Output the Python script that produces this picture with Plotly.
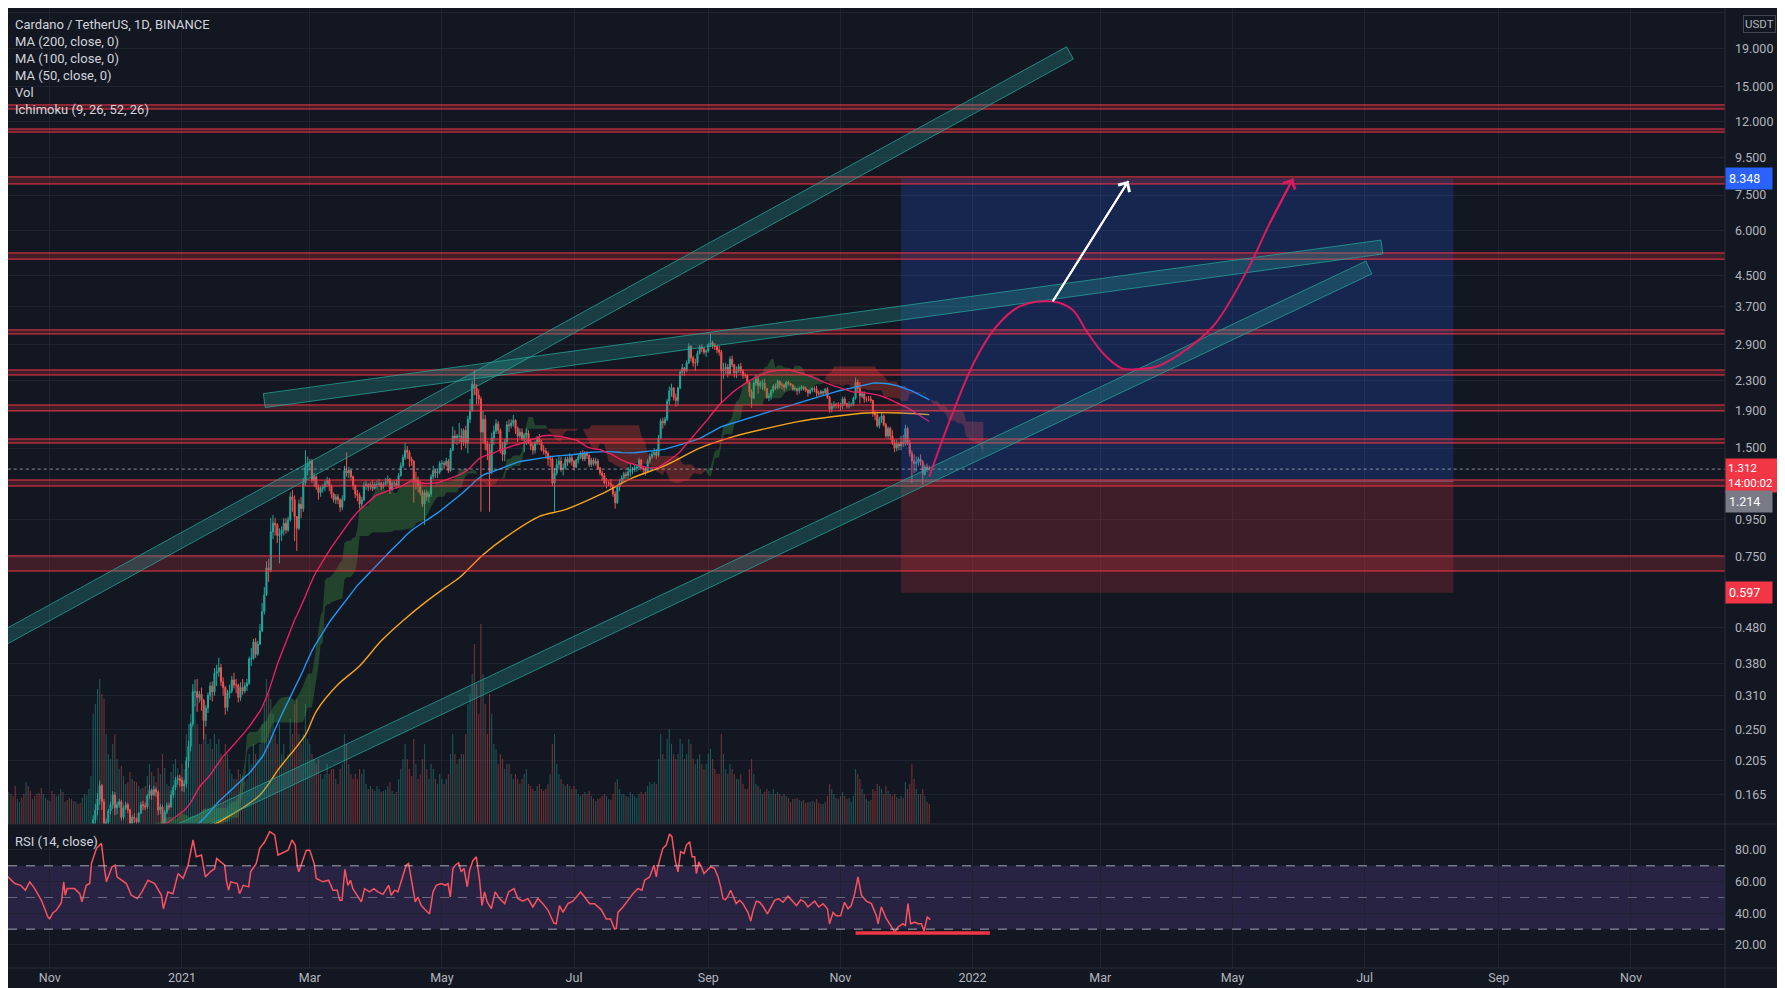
import math
import numpy as np
import pandas as pd
import plotly.graph_objects as go

# ---------------- DATA (read / estimated from the picture) ----------------
months = ['2020-10', '2020-11', '2020-12', '2021-01', '2021-02', '2021-03', '2021-04',
          '2021-05', '2021-06', '2021-07', '2021-08', '2021-09', '2021-10', '2021-11', '2021-12']
first_open = 0.102

close_by_month = [
    [0.100,0.097,0.100,0.102,0.103,0.099,0.101,0.102,0.105,0.108,0.107,0.108,0.109,0.106,0.105,0.100,0.101,0.104,0.102,0.101,0.110,0.109,0.106,0.108,0.105,0.104,0.101,0.099,0.102,0.104,0.103],
    [0.103,0.094,0.092,0.095,0.099,0.107,0.100,0.104,0.103,0.101,0.105,0.104,0.104,0.102,0.100,0.104,0.107,0.108,0.111,0.117,0.141,0.150,0.161,0.175,0.158,0.131,0.139,0.149,0.155,0.165],
    [0.152,0.155,0.158,0.143,0.152,0.155,0.150,0.138,0.143,0.142,0.139,0.147,0.155,0.154,0.153,0.164,0.170,0.165,0.171,0.168,0.150,0.153,0.133,0.148,0.154,0.153,0.165,0.173,0.182,0.183,0.181],
    [0.175,0.177,0.205,0.225,0.259,0.318,0.318,0.307,0.313,0.301,0.265,0.287,0.311,0.330,0.318,0.358,0.362,0.371,0.339,0.327,0.288,0.316,0.320,0.343,0.332,0.332,0.307,0.327,0.320,0.330,0.336],
    [0.392,0.393,0.437,0.404,0.431,0.468,0.530,0.590,0.700,0.690,0.880,0.930,0.920,0.860,0.870,0.890,0.930,0.890,0.950,1.100,1.080,0.970,0.900,1.050,1.020,1.200,1.330,1.360],
    [1.380,1.220,1.250,1.170,1.130,1.160,1.170,1.200,1.220,1.180,1.120,1.080,1.100,1.080,1.030,1.080,1.300,1.280,1.300,1.250,1.180,1.120,1.110,1.050,1.080,1.180,1.190,1.170,1.190,1.160,1.190],
    [1.190,1.200,1.170,1.190,1.210,1.230,1.150,1.200,1.200,1.180,1.260,1.340,1.410,1.480,1.460,1.400,1.380,1.220,1.220,1.180,1.130,1.050,1.130,1.100,1.120,1.250,1.300,1.280,1.290,1.360],
    [1.360,1.350,1.380,1.300,1.480,1.620,1.600,1.620,1.620,1.560,1.680,1.550,1.800,1.900,2.250,2.200,2.100,2.050,1.660,1.800,1.540,1.480,1.290,1.600,1.670,1.750,1.680,1.480,1.440,1.560,1.740],
    [1.730,1.760,1.790,1.700,1.620,1.660,1.590,1.630,1.650,1.550,1.520,1.480,1.550,1.590,1.560,1.480,1.470,1.450,1.400,1.400,1.200,1.280,1.350,1.380,1.310,1.320,1.400,1.370,1.410,1.380],
    [1.330,1.390,1.420,1.450,1.400,1.450,1.430,1.350,1.390,1.360,1.380,1.320,1.280,1.260,1.200,1.200,1.200,1.180,1.120,1.060,1.170,1.200,1.240,1.270,1.260,1.290,1.310,1.310,1.320,1.330,1.390],
    [1.320,1.310,1.290,1.380,1.420,1.440,1.460,1.430,1.600,1.780,1.760,1.800,2.020,2.160,2.200,2.070,2.030,2.200,2.430,2.500,2.450,2.580,2.860,2.660,2.580,2.580,2.740,2.850,2.820,2.760,2.780],
    [2.900,2.930,2.880,2.860,2.800,2.760,2.450,2.480,2.510,2.410,2.640,2.550,2.420,2.450,2.520,2.450,2.380,2.380,2.280,2.140,2.060,2.270,2.330,2.230,2.270,2.270,2.190,2.070,2.090,2.160],
    [2.220,2.200,2.290,2.240,2.240,2.210,2.280,2.260,2.240,2.180,2.190,2.160,2.190,2.210,2.190,2.170,2.130,2.170,2.190,2.180,2.130,2.120,2.150,2.130,2.180,2.070,1.920,1.960,1.980,1.970,1.970],
    [1.960,2.050,1.990,1.960,1.980,1.980,2.060,2.280,2.190,2.090,2.120,2.050,2.050,2.050,2.030,1.870,1.850,1.730,1.800,1.840,1.740,1.620,1.700,1.620,1.550,1.500,1.540,1.520,1.560,1.540],
    [1.700,1.550,1.450,1.380,1.360,1.370,1.400,1.370,1.270,1.330,1.320,1.312],
]
high_by_month = [
    [0.103,0.101,0.101,0.104,0.105,0.104,0.102,0.104,0.107,0.110,0.110,0.110,0.111,0.110,0.107,0.106,0.102,0.105,0.105,0.103,0.112,0.113,0.110,0.109,0.109,0.106,0.105,0.102,0.103,0.105,0.106],
    [0.105,0.104,0.095,0.096,0.100,0.111,0.108,0.105,0.107,0.104,0.106,0.107,0.106,0.105,0.103,0.105,0.109,0.110,0.114,0.120,0.145,0.156,0.167,0.181,0.177,0.161,0.142,0.151,0.158,0.169],
    [0.168,0.158,0.161,0.160,0.154,0.158,0.157,0.151,0.145,0.147,0.143,0.148,0.158,0.159,0.157,0.166,0.176,0.172,0.175,0.173,0.170,0.156,0.155,0.150,0.157,0.157,0.170,0.176,0.185,0.187,0.188],
    [0.185,0.182,0.210,0.233,0.262,0.334,0.344,0.345,0.320,0.327,0.304,0.292,0.317,0.338,0.340,0.370,0.378,0.395,0.380,0.349,0.330,0.322,0.333,0.352,0.359,0.345,0.335,0.338,0.345,0.338,0.345],
    [0.398,0.420,0.446,0.448,0.440,0.490,0.560,0.620,0.730,0.740,0.960,0.980,0.960,0.930,0.900,0.910,0.960,0.960,0.970,1.130,1.150,1.110,0.960,1.080,1.100,1.240,1.480,1.420],
    [1.400,1.400,1.280,1.260,1.190,1.180,1.190,1.220,1.250,1.240,1.190,1.130,1.120,1.120,1.090,1.110,1.340,1.460,1.330,1.310,1.260,1.190,1.150,1.130,1.100,1.210,1.220,1.200,1.210,1.220,1.210],
    [1.220,1.230,1.210,1.210,1.240,1.260,1.240,1.220,1.220,1.230,1.280,1.370,1.440,1.550,1.520,1.480,1.420,1.390,1.290,1.250,1.220,1.150,1.150,1.150,1.140,1.270,1.340,1.310,1.320,1.380],
    [1.390,1.380,1.410,1.400,1.500,1.720,1.680,1.640,1.760,1.700,1.700,1.730,1.840,2.050,2.300,2.470,2.250,2.180,2.080,1.900,1.850,1.570,1.540,1.650,1.730,1.800,1.780,1.700,1.560,1.590,1.780],
    [1.800,1.800,1.850,1.800,1.720,1.700,1.700,1.650,1.700,1.680,1.580,1.560,1.570,1.620,1.640,1.580,1.530,1.500,1.470,1.430,1.420,1.320,1.400,1.430,1.420,1.360,1.420,1.420,1.450,1.440],
    [1.390,1.400,1.440,1.470,1.480,1.470,1.470,1.440,1.410,1.410,1.410,1.400,1.330,1.300,1.280,1.240,1.220,1.230,1.190,1.140,1.190,1.230,1.260,1.290,1.290,1.330,1.360,1.330,1.350,1.350,1.410],
    [1.400,1.340,1.330,1.400,1.450,1.470,1.500,1.490,1.630,1.810,1.820,1.830,2.050,2.220,2.260,2.210,2.120,2.210,2.460,2.560,2.510,2.620,2.920,2.890,2.700,2.650,2.790,2.890,2.900,2.850,2.810],
    [2.920,3.100,2.970,2.920,2.880,2.870,2.800,2.580,2.580,2.560,2.690,2.700,2.560,2.520,2.560,2.580,2.480,2.420,2.400,2.290,2.180,2.310,2.400,2.360,2.300,2.320,2.330,2.200,2.130,2.180],
    [2.250,2.260,2.320,2.310,2.280,2.260,2.300,2.300,2.270,2.250,2.230,2.200,2.220,2.240,2.230,2.220,2.180,2.190,2.210,2.220,2.230,2.160,2.170,2.160,2.200,2.210,2.090,2.000,2.020,2.000,2.010],
    [2.000,2.080,2.080,2.000,2.020,2.000,2.080,2.350,2.320,2.280,2.150,2.150,2.080,2.090,2.090,2.040,1.910,1.880,1.830,1.880,1.860,1.760,1.720,1.720,1.680,1.580,1.580,1.560,1.620,1.630],
    [1.740,1.720,1.580,1.480,1.440,1.420,1.420,1.440,1.390,1.350,1.360,1.340],
]
low_by_month = [
    [0.098,0.094,0.096,0.099,0.100,0.098,0.098,0.100,0.101,0.104,0.105,0.105,0.106,0.105,0.103,0.099,0.099,0.100,0.101,0.099,0.100,0.107,0.104,0.105,0.104,0.101,0.099,0.097,0.098,0.101,0.102],
    [0.100,0.092,0.088,0.091,0.094,0.098,0.097,0.098,0.101,0.099,0.100,0.102,0.102,0.101,0.098,0.099,0.103,0.104,0.106,0.110,0.116,0.135,0.145,0.155,0.150,0.115,0.128,0.136,0.146,0.151],
    [0.145,0.146,0.152,0.140,0.141,0.150,0.147,0.135,0.136,0.138,0.134,0.138,0.146,0.150,0.150,0.151,0.161,0.160,0.164,0.163,0.145,0.146,0.128,0.131,0.146,0.150,0.152,0.162,0.170,0.176,0.174],
    [0.169,0.168,0.173,0.196,0.218,0.255,0.290,0.280,0.297,0.282,0.235,0.255,0.278,0.302,0.299,0.310,0.330,0.350,0.330,0.310,0.275,0.281,0.305,0.315,0.325,0.315,0.297,0.300,0.312,0.315,0.320],
    [0.332,0.375,0.390,0.395,0.400,0.428,0.465,0.520,0.585,0.640,0.680,0.840,0.860,0.820,0.720,0.830,0.860,0.870,0.880,0.940,1.000,0.830,0.780,0.890,0.960,1.000,1.180,1.260],
    [1.300,1.200,1.170,1.150,1.080,1.100,1.130,1.140,1.170,1.140,1.090,1.060,1.050,1.050,1.000,1.010,1.070,1.250,1.240,1.220,1.150,1.090,1.070,1.020,1.030,1.070,1.150,1.140,1.150,1.140,1.150],
    [1.160,1.170,1.150,1.160,1.180,1.190,1.120,1.140,1.170,1.160,1.170,1.250,1.320,1.390,1.400,1.330,1.340,1.060,1.150,1.130,1.110,1.030,0.920,1.070,1.060,1.100,1.230,1.240,1.240,1.270],
    [1.300,1.310,1.330,1.280,1.290,1.470,1.540,1.530,1.550,1.480,1.520,1.500,1.450,1.760,1.890,2.100,1.980,1.980,1.000,1.550,1.480,1.390,1.000,1.270,1.530,1.640,1.640,1.450,1.380,1.380,1.530],
    [1.660,1.700,1.720,1.640,1.560,1.600,1.570,1.460,1.530,1.540,1.480,1.440,1.450,1.530,1.530,1.470,1.440,1.400,1.340,1.330,1.180,1.000,1.260,1.310,1.290,1.260,1.310,1.340,1.360,1.340],
    [1.300,1.320,1.360,1.400,1.380,1.380,1.400,1.330,1.330,1.340,1.340,1.310,1.260,1.220,1.190,1.160,1.180,1.160,1.100,1.020,1.050,1.140,1.190,1.210,1.230,1.230,1.250,1.270,1.290,1.290,1.320],
    [1.310,1.270,1.260,1.280,1.360,1.400,1.420,1.400,1.420,1.580,1.700,1.730,1.780,1.970,2.080,2.030,1.950,1.960,2.180,2.380,2.370,2.430,2.560,2.600,2.520,2.450,2.530,2.720,2.760,2.720,2.680],
    [2.750,2.850,2.820,2.800,2.740,2.700,2.000,2.330,2.400,2.350,2.390,2.510,2.350,2.340,2.420,2.410,2.330,2.340,2.260,2.080,1.940,2.050,2.230,2.120,2.190,2.170,2.160,2.050,2.020,2.040],
    [2.130,2.170,2.180,2.190,2.180,2.150,2.180,2.230,2.220,2.160,2.150,2.100,2.120,2.160,2.160,2.140,2.080,2.110,2.140,2.140,2.080,2.090,2.100,2.100,2.120,2.050,1.880,1.880,1.930,1.930,1.930],
    [1.900,1.920,1.970,1.930,1.930,1.950,1.960,2.040,2.130,1.990,2.060,2.000,2.010,2.020,2.000,1.830,1.790,1.710,1.700,1.760,1.720,1.600,1.590,1.580,1.530,1.460,1.470,1.480,1.480,1.510],
    [1.520,1.530,1.420,1.200,1.280,1.290,1.340,1.340,1.190,1.260,1.290,1.300],
]
volume_by_month = [
    [300,350,250,240,260,300,250,260,320,340,300,280,320,300,280,380,250,220,260,300,420,380,330,250,280,300,310,360,300,260,240],
    [230,330,300,280,290,350,320,220,240,260,250,230,220,200,210,260,300,290,350,480,1100,1200,1350,1450,1300,1250,900,700,650,800],
    [900,650,550,580,480,400,420,520,450,430,420,380,350,360,380,480,600,520,480,420,560,500,700,560,400,380,520,600,650,560,480],
    [600,550,900,1000,1100,1350,1200,1000,800,800,1100,900,800,850,750,900,800,850,700,650,800,700,550,500,450,450,550,500,480,420,450],
    [700,600,800,700,650,800,1000,1200,1450,1300,1250,1100,900,800,1000,700,800,650,700,1050,900,1200,1250,900,800,900,1200,850],
    [800,700,650,600,650,500,450,500,600,500,550,550,450,400,550,600,900,800,600,500,450,500,450,550,500,550,400,350,380,350,330],
    [380,350,320,330,340,380,420,330,300,320,450,550,650,800,650,550,480,850,600,450,500,650,800,550,450,600,550,450,400,500],
    [450,400,450,500,700,900,700,600,650,700,700,900,1200,1300,1500,1800,1400,1100,2000,1500,1200,900,1300,1100,800,750,600,700,650,550,600],
    [600,500,450,500,450,400,450,500,550,400,380,350,330,380,400,350,330,350,400,500,800,900,600,500,450,400,380,400,380,350],
    [380,350,300,280,300,320,300,330,280,250,230,250,260,280,300,280,250,240,300,420,450,350,300,300,280,270,320,300,280,260,300],
    [320,300,320,380,420,400,420,400,650,900,700,650,850,950,800,700,650,700,850,800,650,700,850,800,650,600,650,700,600,550,600],
    [700,750,650,550,500,500,900,700,550,500,600,550,500,450,450,500,400,350,350,550,650,500,400,380,350,300,320,350,330,300],
    [350,300,320,300,280,300,280,260,220,250,250,260,240,230,240,210,220,220,230,220,250,210,200,200,220,280,400,350,300,260,250],
    [280,320,280,250,260,220,280,550,500,450,350,300,250,230,240,350,330,400,380,350,300,380,330,300,280,300,270,250,280,260],
    [420,350,400,600,450,350,300,300,350,280,220,200],
]

# MA(200) (date, value)
ma200_dates = ['2021-01-05','2021-01-19','2021-02-06','2021-02-15','2021-02-27','2021-03-04','2021-03-14',
               '2021-03-24','2021-04-03','2021-04-13','2021-04-23','2021-05-03','2021-05-09','2021-05-20',
               '2021-05-31','2021-06-15','2021-06-27','2021-07-13','2021-07-28','2021-08-13','2021-08-28',
               '2021-09-13','2021-09-28','2021-10-13','2021-10-28','2021-11-13','2021-11-29','2021-12-12']
ma200_values = [0.128,0.140,0.165,0.196,0.242,0.281,0.333,0.375,0.440,0.500,0.560,0.620,0.657,0.761,
                0.855,0.971,1.014,1.115,1.240,1.350,1.500,1.616,1.700,1.778,1.830,1.875,1.875,1.855]

# RSI(14): (days after 2021-01-01, value)
rsi_points = [
    (-82.0,62.5),(-80.3,63.0),(-77.2,58.8),(-74.5,57.7),(-72.3,54.6),(-70.3,59.9),(-68.0,55.6),(-64.9,48.2),
    (-61.9,37.6),(-61.1,36.6),(-59.6,40.2),(-58.0,41.9),(-55.7,46.7),(-54.6,59.9),(-53.9,51.4),(-53.0,55.6),
    (-49.6,55.6),(-47.2,52.4),(-46.2,47.2),(-44.2,57.7),(-42.6,58.8),(-41.8,71.5),(-39.5,81.0),(-37.2,84.2),
    (-35.7,67.2),(-34.9,59.9),(-32.3,69.4),(-30.8,70.4),(-30.0,63.0),(-28.0,60.9),(-25.7,58.8),(-23.4,51.4),
    (-20.6,49.3),(-18.5,53.5),(-15.7,60.9),(-12.6,58.8),(-9.5,51.4),(-8.6,42.9),(-6.5,53.5),(-4.2,52.4),
    (-1.8,65.1),(0.5,62.0),(2.8,70.4),(5.1,86.3),(6.6,75.7),(9.0,76.8),(10.8,63.0),(13.1,66.2),(15.1,68.3),
    (16.0,74.7),(19.7,70.4),(20.6,59.9),(21.5,54.6),(22.5,59.9),(25.5,58.8),(26.6,52.4),(28.3,57.7),
    (30.8,56.7),(31.7,66.2),(34.3,71.5),(35.9,81.0),(38.2,85.2),(40.5,91.6),(42.8,89.5),(44.3,76.8),
    (49.0,79.9),(50.8,86.3),(52.3,83.1),(53.2,70.4),(53.9,66.2),(57.4,79.9),(59.0,79.9),(61.0,71.5),
    (62.0,62.0),(65.1,59.9),(67.7,60.9),(69.7,54.6),(71.7,54.6),(72.8,48.2),(73.9,48.2),(75.2,67.8),
    (76.6,57.7),(77.8,60.9),(78.9,55.6),(81.2,50.3),(82.8,47.2),(84.3,55.6),(86.6,53.5),(88.6,55.6),
    (90.5,53.5),(92.8,52.0),(95.4,57.7),(96.6,51.4),(98.2,54.6),(99.7,53.5),(101.5,62.0),(103.5,70.4),
    (104.6,71.5),(105.9,62.0),(107.7,47.2),(108.9,50.3),(110.5,44.9),(112.3,42.2),(114.3,39.6),(115.9,53.5),
    (117.4,57.7),(119.7,58.8),(121.6,57.7),(122.8,58.8),(123.9,50.3),(125.1,68.3),(126.2,70.4),(127.7,71.9),
    (128.9,66.2),(130.2,68.3),(131.7,56.7),(132.8,67.2),(134.3,73.2),(135.9,75.7),(137.4,60.9),(138.5,44.9),
    (139.7,53.5),(140.9,47.2),(142.8,42.9),(144.6,53.5),(146.6,49.3),(149.0,46.1),(150.8,53.5),(153.3,55.6),
    (155.1,49.3),(157.4,47.7),(159.7,49.3),(162.0,44.0),(164.3,49.3),(166.6,46.1),(169.0,41.9),(171.7,33.8),
    (172.8,33.4),(174.3,44.9),(175.9,40.6),(178.2,46.1),(180.5,47.7),(182.8,51.4),(184.0,53.5),(185.9,50.3),
    (188.2,46.1),(190.5,46.1),(193.6,42.2),(195.9,36.4),(197.9,36.4),(199.7,30.1),(200.5,30.5),(201.3,40.6),
    (203.6,44.0),(205.9,48.2),(208.2,52.4),(210.5,55.6),(212.4,54.6),(213.6,60.9),(215.9,63.0),(217.9,70.4),
    (219.0,63.0),(219.7,69.4),(221.0,76.8),(222.0,81.0),(223.6,83.1),(225.1,90.1),(226.2,88.4),(227.7,73.6),
    (229.0,66.2),(230.2,78.9),(231.8,77.8),(232.9,83.1),(234.4,85.2),(235.5,75.7),(236.7,75.7),(237.5,65.1),
    (238.6,72.5),(239.8,69.4),(241.0,65.1),(242.6,67.2),(244.1,69.4),(245.9,68.3),(247.5,63.0),(248.7,56.7),
    (249.8,49.3),(250.9,48.6),(252.1,50.8),(253.3,54.6),(254.4,50.8),(255.9,46.1),(257.5,48.2),(259.0,46.1),
    (261.3,40.6),(262.6,35.1),(263.6,41.4),(265.2,47.7),(266.7,47.0),(268.3,44.3),(270.3,39.6),(272.1,44.0),
    (273.6,48.2),(275.5,49.3),(277.5,47.0),(279.8,50.8),(281.7,48.2),(283.7,44.9),(285.7,48.6),(287.5,47.0),
    (289.0,44.0),(292.1,47.7),(294.0,44.0),(296.0,46.1),(298.0,42.9),(299.0,33.4),(300.6,40.6),(302.1,38.5),
    (304.1,38.5),(305.9,47.0),(307.5,42.9),(309.0,44.9),(310.6,52.4),(312.1,63.0),(313.7,51.4),(316.0,47.7),
    (318.3,46.1),(320.6,38.5),(321.4,33.4),(322.9,44.0),(325.2,36.6),(326.7,33.4),(329.1,28.1),(330.6,31.4),
    (332.9,33.4),(334.0,32.3),(335.2,46.1),(336.4,33.4),(338.3,34.4),(339.8,33.4),(341.4,33.4),(342.6,28.8),
    (344.1,37.6),(345.5,36.0),
]

# Horizontal support/resistance zones (upper, lower)
zone_upper = [13.31, 11.42, 8.42, 5.19, 3.18, 2.465, 1.973, 1.589, 1.224, 0.755]
zone_lower = [12.97, 11.20, 8.05, 4.99, 3.10, 2.388, 1.900, 1.549, 1.178, 0.686]

# Trend channels (start date, start price, end date, end price)
band_start_dates = ['2020-10-04', '2020-11-27', '2021-02-08']
band_start_prices = [0.4259, 0.1052, 2.029]
band_end_dates = ['2022-02-15', '2022-07-03', '2022-07-09']
band_end_prices = [18.53, 4.732, 5.39]

# Long position tool
pos_dates = ['2021-11-29', '2022-08-11']
pos_target, pos_entry, pos_stop = 8.348, 1.214, 0.597
last_price = 1.312

# Projected path (pink) and white arrow
path_dates = ['2021-12-12','2021-12-22','2022-01-02','2022-01-12','2022-01-23','2022-02-07','2022-02-16',
              '2022-02-23','2022-03-03','2022-03-11','2022-03-19','2022-03-27','2022-04-06','2022-04-22',
              '2022-05-08','2022-05-18','2022-05-29']
path_prices = [1.25,1.82,2.61,3.25,3.70,3.81,3.62,3.13,2.71,2.49,2.48,2.52,2.71,3.25,4.67,6.23,8.33]
arrow_dates = ['2022-02-07', '2022-03-14']
arrow_prices = [3.81, 8.2]

# RSI drawn support line
rsi_line_dates = ['2021-11-08', '2022-01-09']
rsi_line_value = 27.5

price_ticks = [24, 19, 15, 12, 9.5, 7.5, 6, 4.5, 3.7, 2.9, 2.3, 1.9, 1.5, 0.95, 0.75, 0.48, 0.38, 0.31, 0.25, 0.205, 0.165]
rsi_ticks = [20, 40, 60, 80]
x_tick_dates = ['2020-11-01','2021-01-01','2021-03-01','2021-05-01','2021-07-01','2021-09-01','2021-11-01',
                '2022-01-01','2022-03-01','2022-05-01','2022-07-01','2022-09-01','2022-11-01']
x_tick_text = ['Nov','2021','Mar','May','Jul','Sep','Nov','2022','Mar','May','Jul','Sep','Nov']

legend_lines = ['Cardano / TetherUS, 1D, BINANCE', 'MA (200, close, 0)', 'MA (100, close, 0)',
                'MA (50, close, 0)', 'Vol', 'Ichimoku (9, 26, 52, 26)']

# ---------------- build series ----------------
for m, c in zip(months[:-1], close_by_month[:-1]):
    if len(c) != pd.Timestamp(m + '-01').days_in_month:
        raise ValueError(f'close {m}: {len(c)}')
for nm, arr in [('high', high_by_month), ('low', low_by_month), ('vol', volume_by_month)]:
    for m, a, c in zip(months, arr, close_by_month):
        if len(a) != len(c):
            raise ValueError(f'{nm} {m}: {len(a)} vs {len(c)}')

dates = []
for m, c in zip(months, close_by_month):
    dates += list(pd.date_range(pd.Timestamp(m + '-01'), periods=len(c), freq='D'))
dates = pd.DatetimeIndex(dates)
close = [v for row in close_by_month for v in row]
high = [v for row in high_by_month for v in row]
low = [v for row in low_by_month for v in row]
volume = [v for row in volume_by_month for v in row]
opens = [first_open] + close[:-1]

cs = pd.Series(close)
ma50 = cs.rolling(50).mean()
ma100 = cs.rolling(100).mean()

Hs, Ls = pd.Series(high), pd.Series(low)
tenkan = (Hs.rolling(9).max() + Ls.rolling(9).min()) / 2
kijun = (Hs.rolling(26).max() + Ls.rolling(26).min()) / 2
spanA = ((tenkan + kijun) / 2).to_numpy()
spanB = ((Hs.rolling(52).max() + Ls.rolling(52).min()) / 2).to_numpy()
cloud_x = dates + pd.Timedelta(days=25)

# ---------------- styling constants ----------------
BG = '#131722'
GRID = '#1f2330'
TXT = '#b2b5be'
FONT = 'Roboto'
UP, DN = '#26a69a', '#ef5350'
RED = '#f23645'
X_LEFT, X_RIGHT = pd.Timestamp('2020-09-01'), pd.Timestamp('2023-02-01')
XR = ['2020-10-12 16:00', '2022-12-14 10:00']
PRICE_RANGE = [-0.8627, 1.392]
RSI_RANGE = [5.47, 96.4]
VOL_MAX = 8160
PLOT_W, PRICE_H = 1717, 816
BAND_W = 14

fig = go.Figure()

# volume (base y axis, drawn first)
vol_colors = ['rgba(38,166,154,0.45)' if c >= o else 'rgba(239,83,80,0.45)' for o, c in zip(opens, close)]
fig.add_trace(go.Bar(x=dates, y=volume, marker=dict(color=vol_colors, line=dict(width=0)),
                     width=0.5 * 86400000, yaxis='y', hoverinfo='skip'))

# Ichimoku cloud
valid_idx = np.where(~np.isnan(spanA) & ~np.isnan(spanB))[0]
segments = []
cur = None
for k, i in enumerate(valid_idx):
    a, b = spanA[i], spanB[i]
    s = a >= b
    if cur is None:
        cur = {'s': s, 'x': [cloud_x[i]], 'a': [a], 'b': [b]}
    elif s == cur['s']:
        cur['x'].append(cloud_x[i]); cur['a'].append(a); cur['b'].append(b)
    else:
        j = valid_idx[k - 1]
        d0, d1 = spanA[j] - spanB[j], a - b
        t = d0 / (d0 - d1)
        xc = cloud_x[j] + (cloud_x[i] - cloud_x[j]) * t
        yc = spanA[j] + (a - spanA[j]) * t
        cur['x'].append(xc); cur['a'].append(yc); cur['b'].append(yc)
        segments.append(cur)
        cur = {'s': s, 'x': [xc, cloud_x[i]], 'a': [yc, a], 'b': [yc, b]}
if cur is not None:
    segments.append(cur)
for sg in segments:
    fig.add_trace(go.Scatter(x=list(sg['x']) + list(sg['x'])[::-1], y=sg['a'] + sg['b'][::-1],
                             mode='lines', line=dict(width=0), fill='toself',
                             fillcolor='rgba(67,160,71,0.33)' if sg['s'] else 'rgba(244,67,54,0.30)',
                             yaxis='y2', hoverinfo='skip'))

# candles
fig.add_trace(go.Candlestick(x=dates, open=opens, high=high, low=low, close=close, yaxis='y2',
                             increasing=dict(line=dict(color=UP, width=1), fillcolor=UP),
                             decreasing=dict(line=dict(color=DN, width=1), fillcolor=DN),
                             whiskerwidth=0, hoverinfo='skip'))

# moving averages
fig.add_trace(go.Scatter(x=pd.to_datetime(ma200_dates), y=ma200_values, mode='lines',
                         line=dict(color='#f7a51c', width=1.4, shape='spline', smoothing=0.8),
                         yaxis='y2', hoverinfo='skip'))
fig.add_trace(go.Scatter(x=dates, y=ma100, mode='lines', line=dict(color='#2196f3', width=1.4),
                         yaxis='y2', hoverinfo='skip'))
fig.add_trace(go.Scatter(x=dates, y=ma50, mode='lines', line=dict(color='#e91e63', width=1.4),
                         yaxis='y2', hoverinfo='skip'))

# position tool boxes
fig.add_trace(go.Scatter(x=[pos_dates[0], pos_dates[1], pos_dates[1], pos_dates[0]],
                         y=[pos_entry, pos_entry, pos_target, pos_target], mode='lines', line=dict(width=0),
                         fill='toself', fillcolor='rgba(41,98,255,0.20)', yaxis='y2', hoverinfo='skip'))
fig.add_trace(go.Scatter(x=[pos_dates[0], pos_dates[1], pos_dates[1], pos_dates[0]],
                         y=[pos_stop, pos_stop, pos_entry, pos_entry], mode='lines', line=dict(width=0),
                         fill='toself', fillcolor='rgba(242,54,69,0.20)', yaxis='y2', hoverinfo='skip'))
fig.add_trace(go.Scatter(x=pos_dates, y=[pos_entry, pos_entry], mode='lines',
                         line=dict(color='rgba(120,123,134,0.7)', width=1), yaxis='y2', hoverinfo='skip'))

# horizontal zones
for hi, lo in zip(zone_upper, zone_lower):
    fig.add_trace(go.Scatter(x=[X_LEFT, X_RIGHT, X_RIGHT, X_LEFT, X_LEFT], y=[lo, lo, hi, hi, lo],
                             mode='lines', line=dict(color=RED, width=1), fill='toself',
                             fillcolor='rgba(242,54,69,0.20)', yaxis='y2', hoverinfo='skip'))

# current price dotted line
fig.add_trace(go.Scatter(x=[X_LEFT, X_RIGHT], y=[last_price, last_price], mode='lines',
                         line=dict(color='rgba(200,200,210,0.65)', width=1, dash='dot'), yaxis='y2', hoverinfo='skip'))

# trend channels drawn as rotated rectangles of constant screen width
x0_ts = pd.Timestamp(XR[0])
x1_ts = pd.Timestamp(XR[1])
px_per_day = PLOT_W / ((x1_ts - x0_ts) / pd.Timedelta(days=1))
px_per_dec = PRICE_H / (PRICE_RANGE[1] - PRICE_RANGE[0])
def to_px(d, p):
    return ((pd.Timestamp(d) - x0_ts) / pd.Timedelta(days=1) * px_per_day, math.log10(p) * px_per_dec)
def from_px(X, Y):
    return (x0_ts + pd.Timedelta(days=X / px_per_day), 10 ** (Y / px_per_dec))
for d0, p0, d1, p1 in zip(band_start_dates, band_start_prices, band_end_dates, band_end_prices):
    X0, Y0 = to_px(d0, p0)
    X1, Y1 = to_px(d1, p1)
    L = math.hypot(X1 - X0, Y1 - Y0)
    nx, ny = -(Y1 - Y0) / L * BAND_W / 2, (X1 - X0) / L * BAND_W / 2
    corners = [from_px(X0 + nx, Y0 + ny), from_px(X1 + nx, Y1 + ny), from_px(X1 - nx, Y1 - ny),
               from_px(X0 - nx, Y0 - ny), from_px(X0 + nx, Y0 + ny)]
    fig.add_trace(go.Scatter(x=[c[0] for c in corners], y=[c[1] for c in corners], mode='lines',
                             line=dict(color='rgba(38,166,154,0.75)', width=1), fill='toself',
                             fillcolor='rgba(38,166,154,0.28)', yaxis='y2', hoverinfo='skip'))

# projected path
fig.add_trace(go.Scatter(x=path_dates, y=path_prices, mode='lines',
                         line=dict(color='#d81b60', width=2, shape='spline', smoothing=1.0),
                         yaxis='y2', hoverinfo='skip'))
# white arrow shaft
fig.add_trace(go.Scatter(x=arrow_dates, y=arrow_prices, mode='lines',
                         line=dict(color='#ffffff', width=2), yaxis='y2', hoverinfo='skip'))

# RSI
rsi_x = pd.Timestamp('2021-01-01') + pd.to_timedelta([p[0] for p in rsi_points], unit='D')
rsi_y = [p[1] for p in rsi_points]
fig.add_trace(go.Scatter(x=rsi_x, y=rsi_y, mode='lines', line=dict(color='#f7525f', width=1.5),
                         yaxis='y3', hoverinfo='skip'))
fig.add_trace(go.Scatter(x=rsi_line_dates, y=[rsi_line_value] * 2, mode='lines',
                         line=dict(color=RED, width=3.5), yaxis='y3', hoverinfo='skip'))

# ---------------- layout ----------------
shapes = [
    dict(type='rect', xref='x domain', x0=0, x1=1, yref='y3', y0=30, y1=70,
         fillcolor='rgba(126,87,194,0.20)', line=dict(width=0), layer='below'),
]
for lvl, col in [(70, 'rgba(210,212,220,0.75)'), (50, 'rgba(160,163,175,0.55)'), (30, 'rgba(210,212,220,0.75)')]:
    shapes.append(dict(type='line', xref='x domain', x0=0, x1=1, yref='y3', y0=lvl, y1=lvl,
                       line=dict(color=col, width=1, dash='dash')))
shapes += [
    dict(type='line', xref='paper', x0=0, x1=1.05, yref='paper', y0=0.15, y1=0.15, line=dict(color='#2a2e39', width=1)),
    dict(type='line', xref='paper', x0=0, x1=1.05, yref='paper', y0=0, y1=0, line=dict(color='#2a2e39', width=1)),
    dict(type='line', xref='paper', x0=1, x1=1, yref='paper', y0=-0.03, y1=1, line=dict(color='#2a2e39', width=1)),
]

annotations = []
leg_px = [16, 33, 50.5, 67.5, 84.5, 101.5]
for t, py in zip(legend_lines, leg_px):
    annotations.append(dict(text=t, xref='paper', yref='paper', x=0.003, y=1 - py / 960, xanchor='left',
                            yanchor='middle', showarrow=False, font=dict(family=FONT, size=13, color='#d1d4dc')))
annotations.append(dict(text='RSI (14, close)', xref='paper', yref='paper', x=0.003, y=1 - 833 / 960,
                        xanchor='left', yanchor='middle', showarrow=False,
                        font=dict(family=FONT, size=13, color='#d1d4dc')))

def price_label(val, text, bg, width=40, fg='#ffffff', dy=0.0):
    return dict(text=text, xref='paper', yref='y2', x=1.0, y=math.log10(val) + dy, xanchor='left', yanchor='middle',
                showarrow=False, bgcolor=bg, borderpad=3, width=width, align='left',
                font=dict(family=FONT, size=12.5, color=fg))

annotations.append(price_label(pos_target, '8.348', '#2962ff'))
annotations.append(dict(text='1.312<br>14:00:02', xref='paper', yref='y2', x=1.0, y=math.log10(last_price),
                        xanchor='left', yanchor='top', yshift=11, showarrow=False, bgcolor=RED, borderpad=2,
                        width=55, align='left', font=dict(family=FONT, size=11.5, color='#ffffff')))
annotations.append(price_label(pos_entry, '1.214', '#787b86', dy=-0.057))
annotations.append(price_label(pos_stop, '0.597', RED))
annotations.append(dict(text='USDT', xref='paper', yref='paper', x=1.0105, y=1 - 16 / 960, xanchor='left',
                        yanchor='middle', showarrow=False, bgcolor=BG, bordercolor='#434651', borderwidth=1,
                        borderpad=1, font=dict(family=FONT, size=11.5, color=TXT)))
# arrow heads
annotations.append(dict(x=arrow_dates[1], y=math.log10(arrow_prices[1]), ax=arrow_dates[0],
                        ay=math.log10(arrow_prices[0]), xref='x', yref='y2', axref='x', ayref='y2',
                        showarrow=True, arrowhead=4, arrowsize=1.3, arrowwidth=2, arrowcolor='#ffffff', text=''))
annotations.append(dict(x=path_dates[-1], y=math.log10(path_prices[-1]), ax=path_dates[-2],
                        ay=math.log10(path_prices[-2]), xref='x', yref='y2', axref='x', ayref='y2',
                        showarrow=True, arrowhead=4, arrowsize=1.3, arrowwidth=2, arrowcolor='#d81b60', text=''))

fig.update_layout(
    width=1785, height=988, margin=dict(l=0, r=68, t=0, b=28),
    paper_bgcolor=BG, plot_bgcolor=BG, showlegend=False, hovermode=False,
    font=dict(family=FONT, size=12.5, color=TXT),
    xaxis=dict(type='date', range=XR, anchor='y3', domain=[0, 1], tickvals=x_tick_dates, ticktext=x_tick_text,
               showgrid=True, gridcolor=GRID, gridwidth=1, zeroline=False, showline=False, ticks='',
               rangeslider=dict(visible=False), tickfont=dict(family=FONT, size=12.5, color=TXT)),
    yaxis=dict(domain=[0.15, 1], range=[0, VOL_MAX], visible=False, fixedrange=True),
    yaxis2=dict(type='log', overlaying='y', side='right', anchor='x', range=PRICE_RANGE,
                tickvals=price_ticks, ticktext=[f'{v:.3f}' for v in price_ticks], showgrid=True,
                gridcolor=GRID, zeroline=False, showline=False, ticks='', ticklabelstandoff=9,
                tickfont=dict(family=FONT, size=12.5, color=TXT)),
    yaxis3=dict(domain=[0, 0.15], side='right', anchor='x', range=RSI_RANGE, tickvals=rsi_ticks,
                ticktext=[f'{v:.2f}' for v in rsi_ticks], showgrid=True, gridcolor=GRID, zeroline=False,
                showline=False, ticks='', ticklabelstandoff=9, tickfont=dict(family=FONT, size=12.5, color=TXT)),
    shapes=shapes, annotations=annotations,
)

fig.write_html('out.html')
